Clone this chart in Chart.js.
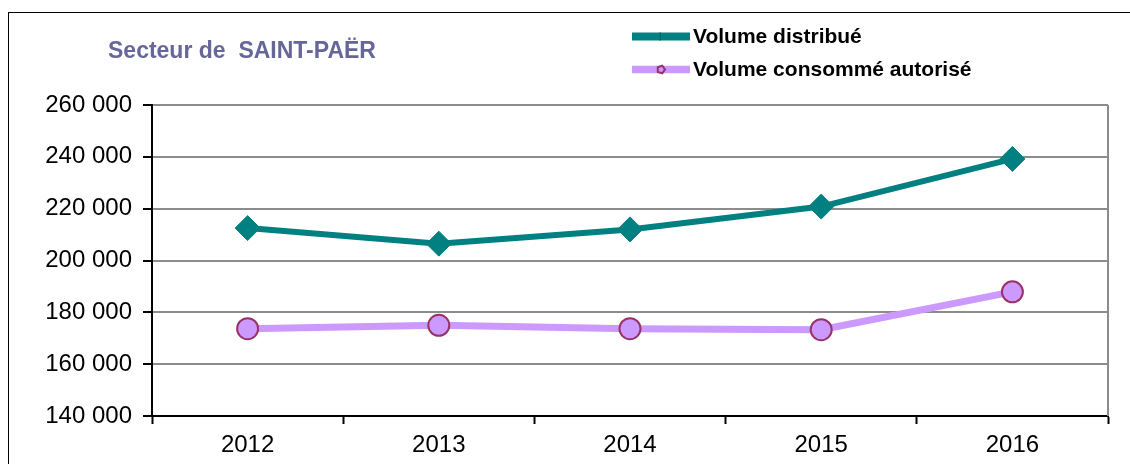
<!DOCTYPE html>
<html>
<head>
<meta charset="utf-8">
<title>Secteur de SAINT-PAËR</title>
<script src="https://cdn.jsdelivr.net/npm/chart.js@4.4.1/dist/chart.umd.min.js"></script>
<style>
  html, body { margin: 0; padding: 0; background: #fff; overflow: hidden; }
  #frame { position: absolute; left: 8px; top: 12px; width: 1140px; height: 470px; border: 1.5px solid #000; }
  #wrap { position: absolute; left: 0; top: 0; width: 1130px; height: 464px; }
</style>
</head>
<body>
<div id="frame"></div>
<div id="wrap"><canvas id="chart" width="1130" height="464"></canvas></div>
<script>
// values
const years = ['2012', '2013', '2014', '2015', '2016'];
const volumeDistribue = [212500, 206500, 212000, 220800, 239200];
const volumeConsomme = [173700, 175000, 173700, 173300, 187900];
const chartTitle = 'Secteur de  SAINT-PAËR';
const yMin = 140000, yMax = 260000, yStep = 20000;

const FONT = "'Liberation Sans', Arial, sans-serif";

// 260000 -> "260 000"
const fmt = v => String(v).replace(/\B(?=(\d{3})+(?!\d))/g, ' ');

// title, legend and the grey right border of the plot area
const decorations = {
  id: 'decorations',
  afterDraw(chart) {
    const ctx = chart.ctx;
    const area = chart.chartArea;
    ctx.save();

    // right border of plot area
    ctx.strokeStyle = '#8c8c8c';
    ctx.lineWidth = 2;
    ctx.beginPath();
    ctx.moveTo(area.right, area.top);
    ctx.lineTo(area.right, area.bottom);
    ctx.stroke();

    // title
    ctx.fillStyle = '#666699';
    ctx.font = 'bold 23px ' + FONT;
    ctx.textAlign = 'left';
    ctx.textBaseline = 'middle';
    ctx.fillText(chartTitle, 108, 52);

    // legend
    const rows = [36.5, 69.5];
    chart.data.datasets.forEach((ds, i) => {
      const y = rows[i];
      ctx.strokeStyle = ds.borderColor;
      ctx.lineWidth = i === 0 ? 8 : 7.5;
      ctx.lineCap = 'butt';
      ctx.beginPath();
      ctx.moveTo(632, y);
      ctx.lineTo(690, y);
      ctx.stroke();

      if (i === 0) {
        ctx.fillStyle = '#006666';
        ctx.fillRect(659.5, y - 4, 1.5, 8);
      } else {
        ctx.fillStyle = ds.pointBackgroundColor;
        ctx.strokeStyle = ds.pointBorderColor;
        ctx.lineWidth = 2;
        ctx.beginPath();
        for (let k = 0; k < 5; k++) {
          const a = -Math.PI / 2 + k * 2 * Math.PI / 5 + 0.3;
          const px = 661 + 4 * Math.cos(a), py = y + 4 * Math.sin(a);
          k ? ctx.lineTo(px, py) : ctx.moveTo(px, py);
        }
        ctx.closePath();
        ctx.fill();
        ctx.stroke();
      }

      ctx.fillStyle = '#000';
      ctx.font = 'bold 21px ' + FONT;
      ctx.textAlign = 'left';
      ctx.textBaseline = 'middle';
      ctx.fillText(ds.label, 693, y + 1);
    });
    ctx.restore();
  }
};

new Chart(document.getElementById('chart'), {
  type: 'line',
  data: {
    labels: years,
    datasets: [
      {
        label: 'Volume distribué',
        data: volumeDistribue,
        borderColor: '#008080',
        backgroundColor: '#008080',
        borderWidth: 6,
        pointStyle: 'rectRot',
        pointRadius: 12.5,
        pointBackgroundColor: '#008080',
        pointBorderColor: '#008080',
        pointBorderWidth: 1,
        tension: 0,
        fill: false
      },
      {
        label: 'Volume consommé autorisé',
        data: volumeConsomme,
        borderColor: '#CC99FF',
        backgroundColor: '#CC99FF',
        borderWidth: 7,
        pointStyle: 'circle',
        pointRadius: 10.5,
        pointBackgroundColor: '#CC99FF',
        pointBorderColor: '#993366',
        pointBorderWidth: 2,
        tension: 0,
        fill: false
      }
    ]
  },
  options: {
    responsive: false,
    animation: false,
    events: [],
    layout: { padding: { left: 0, top: 105, right: 22, bottom: 0 } },
    plugins: {
      legend: { display: false },
      title: { display: false },
      tooltip: { enabled: false }
    },
    scales: {
      x: {
        type: 'category',
        offset: true,
        grid: {
          offset: true,
          drawOnChartArea: false,
          drawTicks: true,
          tickLength: 8,
          tickColor: '#000',
          tickWidth: 2
        },
        border: { color: '#000', width: 2 },
        ticks: {
          font: { family: FONT, size: 24 },
          color: '#000',
          padding: 7,
          maxRotation: 0
        },
        afterFit: s => { s.height = 48; }
      },
      y: {
        min: yMin,
        max: yMax,
        grid: {
          color: '#8c8c8c',
          lineWidth: 2,
          tickColor: '#000',
          tickLength: 9,
          tickWidth: 2
        },
        border: { color: '#000', width: 2 },
        ticks: {
          stepSize: yStep,
          font: { family: FONT, size: 24 },
          color: '#000',
          padding: 11,
          callback: v => fmt(v)
        },
        afterFit: s => { s.width = 152; }
      }
    }
  },
  plugins: [decorations]
});
</script>
</body>
</html>
